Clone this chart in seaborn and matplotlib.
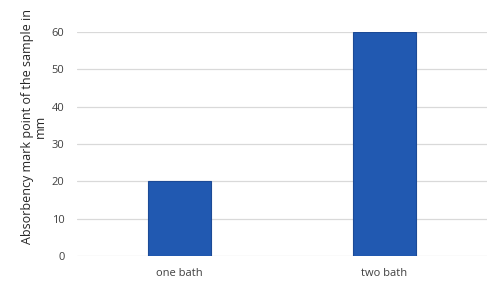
import pandas as pd
import seaborn as sns
import matplotlib.pyplot as plt

# Data
categories = ['one bath', 'two bath']
values = [20, 60]

df = pd.DataFrame({'bath': categories, 'mark': values})

sns.set_style("white")
plt.rcParams['font.family'] = ['Open Sans', 'DejaVu Sans']

fig = plt.figure(figsize=(5.01, 2.82), dpi=100)
ax = fig.add_axes([0.1537, 0.0922, 0.8183, 0.7943])

sns.barplot(data=df, x='bath', y='mark', color='#2159B1', saturation=1,
            width=0.31, edgecolor='#1C4A96', linewidth=0.8, ax=ax, zorder=3)

ax.set_ylim(0, 60)
ax.set_xlim(-0.5, 1.5)
ax.set_yticks(range(0, 61, 10))
ax.yaxis.grid(True, color='#D9D9D9', linewidth=0.9, zorder=0)
ax.set_axisbelow(True)
for s in ax.spines.values():
    s.set_visible(False)
ax.tick_params(axis='both', length=0, labelsize=8, colors='#404040')
ax.tick_params(axis='x', pad=9)
ax.tick_params(axis='y', pad=9)
ax.set_xlabel('')
ax.set_ylabel('Absorbency mark point of the sample in\nmm', fontsize=9,
              color='#262626', linespacing=1.0)
ax.yaxis.set_label_coords(-0.073, 0.58)

fig.savefig('out.png', dpi=100)
